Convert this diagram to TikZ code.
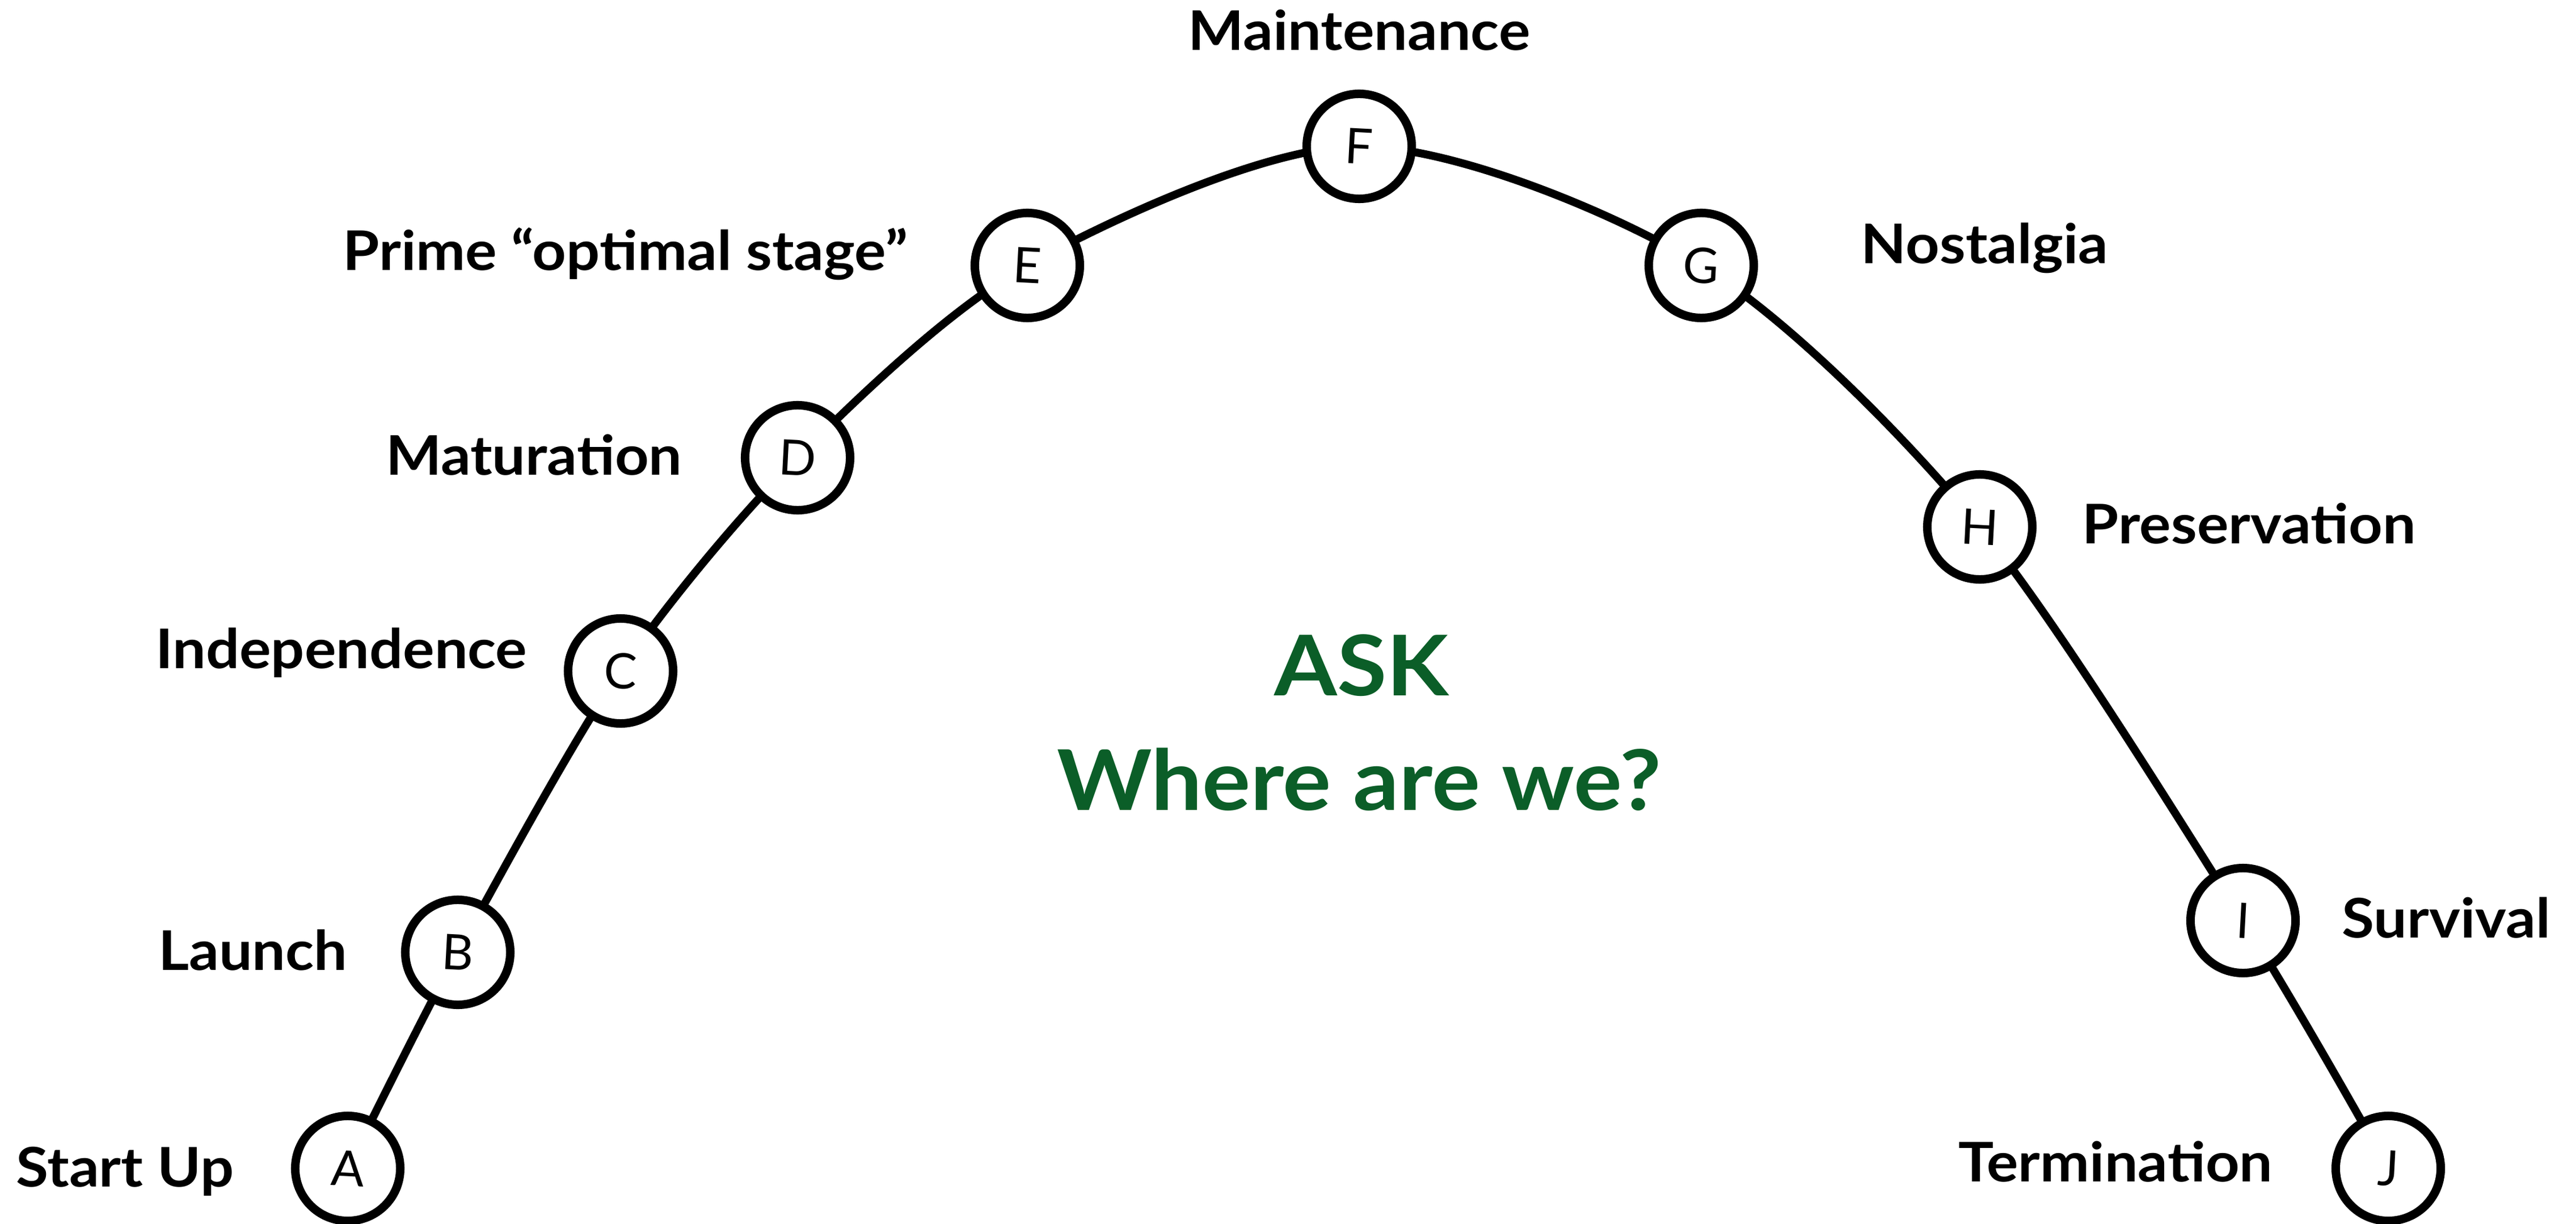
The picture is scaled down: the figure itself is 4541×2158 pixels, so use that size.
\documentclass[tikz,border=0pt]{standalone}
\usepackage{fontspec}
\setmainfont{Lato}[BoldFeatures={FakeStretch=1.08}]
\newfontfamily\thinfont{Lato}
\usetikzlibrary{backgrounds}
\definecolor{askgreen}{RGB}{11,94,40}
\begin{document}
\begin{tikzpicture}[x=0.01cm,y=-0.01cm,
  stage/.style={circle,draw=black,line width=0.15cm,fill=white,minimum size=1.85cm,inner sep=0pt,rotate=-3,
    font=\thinfont\fontsize{24.6}{26}\selectfont},
  lbl/.style={inner sep=0pt,font=\bfseries\fontsize{27.4}{30}\selectfont},
  asktext/.style={inner sep=0pt,text=askgreen,font=\bfseries\fontsize{42}{50}\selectfont},
  link/.style={line width=0.14cm,line join=round}]
\useasboundingbox (0,0) rectangle (4541,2158);
\node[stage] (A) at (613,2060) {A};
\node[stage] (B) at (807,1679) {B};
\node[stage] (C) at (1094,1183) {C};
\node[stage] (D) at (1406,807) {D};
\node[stage] (E) at (1811,468) {E};
\node[stage] (F) at (2396,258) {F};
\node[stage] (G) at (2999,468) {G};
\node[stage] (H) at (3490,929) {H};
\node[stage] (I) at (3954,1623) {I};
\node[stage] (J) at (4210,2060) {J};
\begin{pgfonlayer}{background}
\draw[link] plot[smooth,tension=0.5] coordinates {(A.center) (B.center) (C.center) (D.center) (E.center) (F.center) (G.center) (H.center) (I.center) (J.center)};
\end{pgfonlayer}
\node[lbl,anchor=base east] (lA) at (413,2092) {Start Up};
\node[lbl,anchor=base east] (lB) at (613,1710) {Launch};
\node[lbl,anchor=base east] (lC) at (930,1178) {Independence};
\node[lbl,anchor=base east] (lD) at (1203,837) {Maturation};
\node[lbl,anchor=base east] (lE) at (1601,477) {Prime “optimal stage”};
\node[lbl,anchor=base] (lF) at (2396,89) {Maintenance};
\node[lbl,anchor=base west] (lG) at (3280,465) {Nostalgia};
\node[lbl,anchor=base west] (lH) at (3670,958) {Preservation};
\node[lbl,anchor=base west] (lI) at (4128,1653) {Survival};
\node[lbl,anchor=base east] (lJ) at (4007,2083) {Termination};
\node[asktext,anchor=base] (ask) at (2400,1226) {ASK};
\node[asktext,anchor=base] (where) at (2396,1428) {Where are we?};
\end{tikzpicture}
\end{document}
